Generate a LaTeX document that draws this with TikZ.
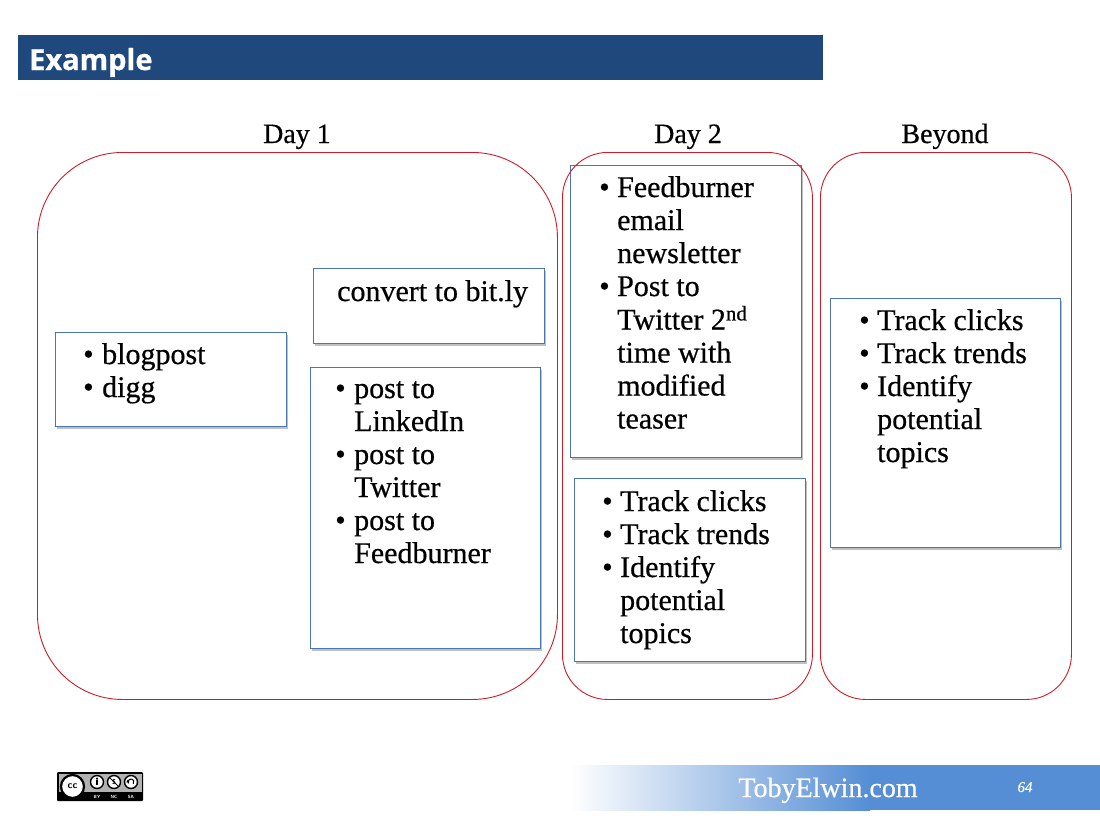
\documentclass[tikz,border=0pt]{standalone}
\usepackage{fontspec}
\setmainfont{Liberation Serif}[FakeBold=0.5]
\newfontfamily\headfont{Open Sans}[FakeBold=0.6]
\usetikzlibrary{shadows}
\definecolor{headblue}{RGB}{31,73,125}
\definecolor{boxblue}{RGB}{76,118,176}
\definecolor{areared}{RGB}{204,30,40}
\definecolor{footblue}{RGB}{85,142,213}
\newcommand{\blist}[2]{\begin{tabular}[t]{@{}p{#1}@{}l@{}}#2\end{tabular}}
\tikzset{
  box/.style={draw=boxblue, line width=0.9pt, fill=white, anchor=north west, inner sep=0pt,
    drop shadow={shadow xshift=1.5pt, shadow yshift=-2.5pt, opacity=0.35, fill=black!70}},
  area/.style={draw=areared, line width=0.9pt, anchor=north west, inner sep=0pt},
  bodytext/.style={anchor=base west, inner sep=0pt, font=\fontsize{30}{33}\selectfont},
  daylabel/.style={anchor=base, inner sep=0pt, font=\fontsize{28}{33}\selectfont},
  cclabel/.style={inner sep=0pt, text=white, font=\sffamily\bfseries\fontsize{4.5}{5}\selectfont}
}
\begin{document}
\begin{tikzpicture}[x=1pt, y=-1pt]
\useasboundingbox (0,0) rectangle (1100,825);
\fill[white] (0,0) rectangle (1100,825);

% header
\fill[headblue] (18,35) rectangle (823,80);
\node[anchor=base west, inner sep=0pt, text=white, font=\headfont\bfseries\fontsize{29}{34}\selectfont] (title) at (29,70) {Example};

% day labels
\node[daylabel] (l1) at (297,143) {Day 1};
\node[daylabel] (l2) at (688,143) {Day 2};
\node[daylabel] (l3) at (945,143) {Beyond};

% boxes
\node[box, minimum width=231pt, minimum height=94pt] (b1) at (55,332) {};
\node[box, minimum width=231pt, minimum height=75pt] (bconv) at (313,268) {};
\node[box, minimum width=230pt, minimum height=281pt] (bpost) at (310,367) {};
\node[box, minimum width=231pt, minimum height=292pt] (bd2a) at (570,165) {};
\node[box, minimum width=231pt, minimum height=183pt] (bd2b) at (574,478) {};
\node[box, minimum width=230pt, minimum height=249pt] (bbey) at (830,298) {};

% red areas
\node[area, minimum width=520pt, minimum height=547pt, rounded corners=85pt] (a1) at (37,152) {};
\node[area, minimum width=250pt, minimum height=547pt, rounded corners=45pt] (a2) at (562,152) {};
\node[area, minimum width=251pt, minimum height=547pt, rounded corners=45pt] (a3) at (820,152) {};

% texts
\node[bodytext] (t1) at (83,364) {\blist{19pt}{\textbullet & blogpost\\ \textbullet & digg}};
\node[bodytext] (tconv) at (337,301) {convert to bit.ly};
\node[bodytext] (tpost) at (335,398) {\blist{19pt}{\textbullet & post to\\ & LinkedIn\\ \textbullet & post to\\ & Twitter\\ \textbullet & post to\\ & Feedburner}};
\node[bodytext] (td2a) at (599,197) {\blist{18pt}{\textbullet & Feedburner\\ & email\\ & newsletter\\ \textbullet & Post to\\ & Twitter 2\textsuperscript{nd}\\ & time with\\ & modified\\ & teaser}};
\node[bodytext] (td2b) at (602,511) {\blist{18pt}{\textbullet & Track clicks\\ \textbullet & Track trends\\ \textbullet & Identify\\ & potential\\ & topics}};
\node[bodytext] (tbey) at (859,330) {\blist{18pt}{\textbullet & Track clicks\\ \textbullet & Track trends\\ \textbullet & Identify\\ & potential\\ & topics}};

% footer
\shade[left color=white, right color=footblue] (570,765) rectangle (870,810);
\fill[footblue] (869.5,765) rectangle (1100,810);
\node[anchor=base, inner sep=0pt, text=white, font=\fontsize{28}{30}\selectfont] (site) at (828,797) {TobyElwin.com};
\node[anchor=base, inner sep=0pt, text=white, font=\itshape\fontsize{15}{16}\selectfont] (page) at (1025,792) {64};

% cc logo
\fill[black, rounded corners=1pt] (57,772) rectangle (143,801);
\fill[black!30] (58.5,773.5) rectangle (141.5,791.5);
\node[circle, draw=black, fill=white, line width=2.2pt, minimum size=23pt, inner sep=0pt,
      font=\sffamily\bfseries\fontsize{10}{10}\selectfont] (cc) at (72.5,786.5) {cc};
\foreach \cx in {97,114,131} {
  \draw[black, fill=white, line width=1.4pt] (\cx,782) circle (6.5);
}
\fill[black] (97,778.6) circle (1.2);
\fill[black] (95.6,780.3) rectangle (98.4,785.2);
\node[inner sep=0pt, font=\sffamily\bfseries\fontsize{7}{7}\selectfont] (ncsym) at (114,782) {\$};
\draw[black, line width=0.8pt] (110,778) -- (118,786);
\draw[black, line width=1.1pt] (131,782) ++(150:3) arc (150:400:3);
\fill[black] (127.8,779.6) -- (129.6,782.2) -- (126.2,782.4) -- cycle;
\node[cclabel] (by) at (97,797) {BY};
\node[cclabel] (nc) at (114,797) {NC};
\node[cclabel] (sa) at (131,797) {SA};
\end{tikzpicture}
\end{document}
